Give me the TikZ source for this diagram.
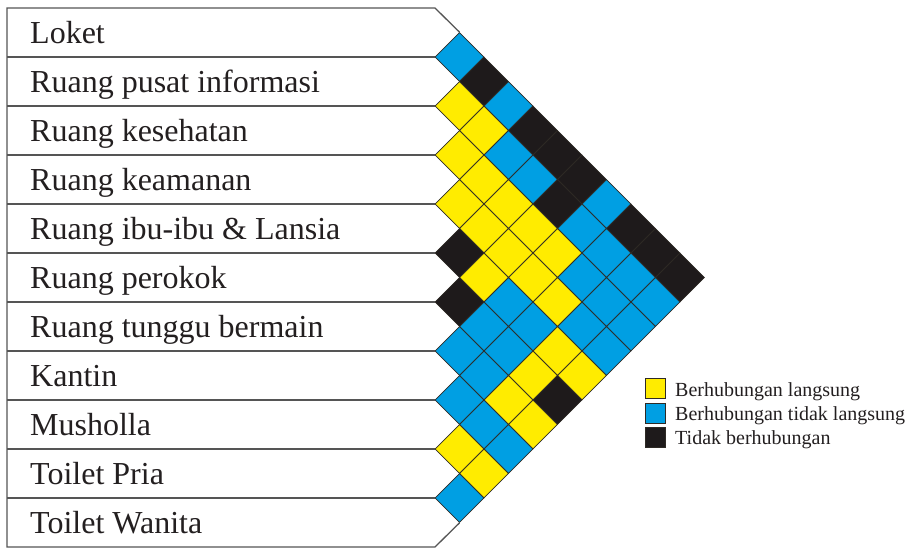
\documentclass[tikz,border=0pt]{standalone}
\usepackage{fontspec}
\setmainfont{Liberation Serif}
\usetikzlibrary{shapes.geometric}
\definecolor{cyel}{HTML}{FFEC00}
\definecolor{cblu}{HTML}{009FE3}
\definecolor{cblk}{HTML}{1E1A1B}
\definecolor{cedge}{HTML}{2E2A25}
\definecolor{rowline}{HTML}{555555}
\definecolor{txt}{HTML}{231F20}
\begin{document}
\begin{tikzpicture}[x=1pt,y=-1pt,
  cell/.style={diamond, aspect=1, minimum width=49pt, minimum height=49pt, inner sep=0pt, draw=cedge, line width=0.7pt},
  yelcell/.style={cell, fill=cyel},
  blucell/.style={cell, fill=cblu},
  blkcell/.style={cell, fill=cblk},
  rowln/.style={draw=rowline, line width=1.3pt},
  lbl/.style={anchor=base west, inner sep=0pt, text=txt, font=\fontsize{32}{32}\selectfont},
  legsq/.style={draw=cedge, line width=0.7pt, minimum width=20pt, minimum height=20pt, inner sep=0pt},
  legtxt/.style={anchor=base west, inner sep=0pt, text=txt, font=\fontsize{20}{20}\selectfont}]
\useasboundingbox[fill=white] (0,0) rectangle (906,549);
% cells
\foreach \i/\j/\c in {
 0/1/blucell, 0/2/blkcell, 0/3/blucell, 0/4/blkcell, 0/5/blkcell, 0/6/blkcell, 0/7/blucell, 0/8/blkcell, 0/9/blkcell, 0/10/blkcell,
 1/2/yelcell, 1/3/yelcell, 1/4/blucell, 1/5/blucell, 1/6/blkcell, 1/7/blucell, 1/8/blucell, 1/9/blucell, 1/10/blucell,
 2/3/yelcell, 2/4/yelcell, 2/5/yelcell, 2/6/yelcell, 2/7/yelcell, 2/8/blucell, 2/9/blucell, 2/10/blucell,
 3/4/yelcell, 3/5/yelcell, 3/6/yelcell, 3/7/yelcell, 3/8/yelcell, 3/9/blucell, 3/10/blucell,
 4/5/blkcell, 4/6/yelcell, 4/7/blucell, 4/8/blucell, 4/9/yelcell, 4/10/yelcell,
 5/6/blkcell, 5/7/blucell, 5/8/blucell, 5/9/yelcell, 5/10/blkcell,
 6/7/blucell, 6/8/blucell, 6/9/yelcell, 6/10/yelcell,
 7/8/blucell, 7/9/blucell, 7/10/blucell,
 8/9/yelcell, 8/10/yelcell,
 9/10/blucell}
 \node[\c] (c-\i-\j) at ({435+24.5*(\j-\i)}, {32.5+24.5*(\i+\j)}) {};
% row frame
\draw[rowln] (c-0-1.north) -- (435,8) -- (7,8) -- (7,547) -- (435,547) -- (c-9-10.south);
\foreach \k [evaluate=\k as \a using int(\k-1)] in {1,...,10}
 \draw[rowln] (7,{8+49*\k}) -- (c-\a-\k.west);
% labels
\foreach \k/\t in {0/Loket, 1/Ruang pusat informasi, 2/Ruang kesehatan, 3/Ruang keamanan,
 4/Ruang ibu-ibu \& Lansia, 5/Ruang perokok, 6/Ruang tunggu bermain, 7/Kantin,
 8/Musholla, 9/Toilet Pria, 10/Toilet Wanita}
 \node[lbl] (l-\k) at (30, {43+49*\k}) {\t};
% legend
\node[legsq, fill=cyel] (s1) at (655,388.3) {};
\node[legsq, fill=cblu] (s2) at (655,413) {};
\node[legsq, fill=cblk] (s3) at (655,437) {};
\node[legtxt] (t1) at (675,396) {Berhubungan langsung};
\node[legtxt] (t2) at (675,420.5) {Berhubungan tidak langsung};
\node[legtxt] (t3) at (675,444.5) {Tidak berhubungan};
\end{tikzpicture}
\end{document}
